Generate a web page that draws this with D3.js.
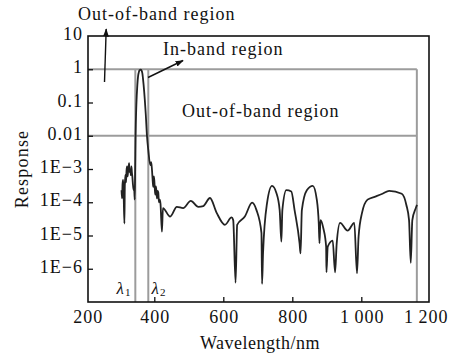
<!DOCTYPE html>
<html>
<head>
<meta charset="utf-8">
<script src="https://cdn.jsdelivr.net/npm/d3@7"></script>
<style>
  body { margin: 0; background: #fff; }
  svg text { font-family: "Liberation Serif", "Times New Roman", Times, "DejaVu Serif", serif; fill: #111; }
</style>
</head>
<body>
<svg></svg>
<script>
(function (d3) {
    'use strict';

    // filter response
    const wavelength = [305, 306.5, 308, 309.6, 311, 313.4, 314.5, 316.2, 318, 319.5, 321.2, 322.5, 324, 325.5,
        326.9, 328.5, 330.7, 332, 333.6, 335, 336.4, 338, 340.2, 341.5, 343.1, 344.5, 345.7, 348, 350.9, 353,
        355.2, 357.5, 360.4, 363, 365.3, 367, 369, 372.5, 375.4, 378.8, 382.6, 388.4, 391, 393.3, 395.6, 397,
        398.5, 399.9, 401.5, 402.8, 405, 407.7, 409.5, 411.4, 413.5, 415.8, 418, 422.1, 425, 446, 465.4, 483.6,
        505.8, 527.7, 542.1, 561.4, 580.8, 604.7, 624, 628.7, 635.6, 640.2, 662.4, 683.5, 696.2, 710.6, 712.3,
        715.2, 726.7, 741.2, 753.9, 763.4, 768.3, 771.2, 782.7, 797.1, 806.6, 821.1, 823.9, 827.7, 842.1, 859.4,
        871, 876.7, 878.8, 881.6, 890.3, 898.1, 899, 902.7, 917.1, 924, 928.7, 938.5, 960.4, 979.7, 987.5, 992.1,
        1001.9, 1018.1, 1042.3, 1061.3, 1080.7, 1117.3, 1130.6, 1138.4, 1143.3, 1147.9, 1157.7, 1161.5];
    const response = [2.3e-4, 1.3e-4, 3.5e-4, 4.7e-4, 2.0e-4, 2.3e-5, 3.0e-4, 6.6e-4, 4.0e-4, 9.0e-4, 1.2e-3, 6.0e-4,
        8.3e-4, 1.1e-3, 1.5e-3, 8.0e-4, 9.3e-4, 6.5e-4, 1.2e-3, 8.0e-4, 5.9e-4, 3.5e-4, 2.3e-4, 3.0e-4, 1.2e-4,
        9.3e-4, 0.0098, 0.084, 0.34, 0.62, 0.82, 0.94, 0.97, 0.92, 0.77, 0.55, 0.34, 0.12, 0.042, 0.0098, 3.7e-3,
        1.3e-3, 1.6e-3, 9.3e-4, 4.1e-4, 2.9e-4, 6.0e-4, 4.7e-4, 2.5e-4, 1.7e-4, 3.0e-4, 1.3e-4, 2.2e-4, 2.0e-4,
        1.0e-4, 1.2e-4, 9.0e-5, 1.3e-5, 6.7e-5, 3.7e-5, 7.3e-5, 6.7e-5, 1.1e-4, 7.3e-5, 7.7e-5, 1.34e-4, 4.8e-5,
        2.1e-5, 3.5e-5, 2.9e-5, 3.8e-7, 2.1e-5, 3.7e-5, 9.7e-5, 5.8e-5, 1.2e-5, 3.5e-7, 3.0e-6, 9.3e-5, 3.1e-4,
        1.9e-4, 5.8e-5, 6.5e-6, 5.8e-5, 2.3e-4, 2.1e-4, 5.8e-5, 5.8e-6, 2.9e-6, 5.8e-5, 2.3e-4, 3.1e-4, 1.2e-4,
        2.3e-5, 5.8e-6, 2.9e-5, 1.6e-5, 4.6e-6, 7.8e-7, 4.6e-6, 7.0e-6, 7.8e-7, 5.8e-6, 2.4e-5, 1.4e-5, 2.4e-5,
        7.3e-7, 9.2e-6, 4.7e-5, 1.2e-4, 1.5e-4, 1.8e-4, 2.2e-4, 1.8e-4, 8.3e-5, 2.9e-5, 1.5e-6, 2.9e-5, 6.6e-5,
        8.3e-5];

    // band limits
    const bandEdges = [345, 382.6];      // lambda1, lambda2
    const limitLevels = [1, 0.01];
    const cutoff = 1161;

    const xTicks = [200, 400, 600, 800, 1000, 1200];
    const xTickLabels = ['200', '400', '600', '800', '1\u2009000', '1\u2009200'];
    const yTicks = [10, 1, 0.1, 0.01, 1e-3, 1e-4, 1e-5, 1e-6];
    const yTickLabels = ['10', '1', '0.1', '0.01', '1E\u22123', '1E\u22124', '1E\u22125', '1E\u22126'];

    const width = 457, height = 356;
    const frame = {left: 88, right: 429, top: 36, bottom: 302};
    const serif = '"Liberation Serif", "Times New Roman", Times, "DejaVu Serif", serif';

    const svg = d3.select('svg').attr('width', width).attr('height', height)
        .attr('font-family', serif);

    const x = d3.scaleLinear().domain([200, 1200]).range([85.3, 430.3]);
    const y = d3.scaleLog().domain([1e-7, 10]).range([frame.bottom, frame.top]);

    svg.append('defs').append('marker')
        .attr('id', 'arr')
        .attr('viewBox', '0 0 10 10')
        .attr('refX', 9).attr('refY', 5)
        .attr('markerWidth', 6).attr('markerHeight', 6)
        .attr('orient', 'auto')
        .append('path').attr('d', 'M0,1.5L10,5L0,8.5Z').attr('fill', '#111');

    // grey limit lines
    const grey = svg.append('g').attr('stroke', '#9c9c9c').attr('stroke-width', 2).attr('fill', 'none');
    limitLevels.forEach(v => {
        grey.append('line')
            .attr('x1', frame.left).attr('x2', x(cutoff))
            .attr('y1', y(v)).attr('y2', y(v));
    });
    grey.append('line')
        .attr('x1', x(cutoff)).attr('x2', x(cutoff))
        .attr('y1', y(limitLevels[0])).attr('y2', frame.bottom);
    grey.selectAll('line.edge').data(bandEdges)
        .enter().append('line').attr('class', 'edge')
        .attr('x1', d => x(d)).attr('x2', d => x(d))
        .attr('y1', y(limitLevels[0])).attr('y2', frame.bottom);

    // response curve
    const line = d3.line()
        .x((d, i) => x(wavelength[i]))
        .y(d => y(d))
        .curve(d3.curveMonotoneX);
    svg.append('path')
        .attr('d', line(response))
        .attr('fill', 'none')
        .attr('stroke', '#222')
        .attr('stroke-width', 1.8)
        .attr('stroke-linejoin', 'round');

    // axes
    const xAxis = svg.append('g')
        .attr('transform', `translate(0,${frame.bottom})`)
        .call(d3.axisBottom(x).tickValues(xTicks)
            .tickFormat((d, i) => xTickLabels[i])
            .tickSize(-5).tickPadding(8));
    xAxis.attr('font-family', serif).attr('font-size', 18);
    xAxis.select('.domain').remove();
    xAxis.selectAll('.tick line')
        .attr('stroke', '#111').attr('stroke-width', 1.3)
        .attr('display', d => (d === 200 || d === 1200) ? 'none' : null);
    xAxis.selectAll('.tick text')
        .attr('letter-spacing', 1).attr('fill', '#111')
        .attr('dx', d => d === 200 ? 2.5 : d === 1200 ? -4.5 : 0.5);

    const yAxis = svg.append('g')
        .attr('transform', `translate(${frame.left},0)`)
        .call(d3.axisLeft(y).tickValues(yTicks)
            .tickFormat((d, i) => yTickLabels[i])
            .tickSize(-5).tickPadding(5));
    yAxis.attr('font-family', serif).attr('font-size', 18);
    yAxis.select('.domain').remove();
    yAxis.selectAll('.tick line').attr('stroke', '#111').attr('stroke-width', 1.3)
        .attr('display', d => d === 10 ? 'none' : null);
    yAxis.selectAll('.tick text')
        .attr('letter-spacing', 1).attr('fill', '#111')
        .attr('dy', '0.2em');

    // frame
    svg.append('rect')
        .attr('x', frame.left).attr('y', frame.top)
        .attr('width', frame.right - frame.left)
        .attr('height', frame.bottom - frame.top)
        .attr('fill', 'none').attr('stroke', '#111').attr('stroke-width', 1.6);

    // axis titles
    svg.append('text')
        .attr('x', 260).attr('y', 349)
        .attr('text-anchor', 'middle')
        .attr('font-size', 18).attr('letter-spacing', 0.5)
        .text('Wavelength/nm');
    svg.append('text')
        .attr('transform', 'translate(28,169) rotate(-90)')
        .attr('text-anchor', 'middle')
        .attr('font-size', 18).attr('letter-spacing', 1.2)
        .text('Response');

    // annotations
    const note = (tx, ty, s) => svg.append('text')
        .attr('x', tx).attr('y', ty)
        .attr('font-size', 18).attr('letter-spacing', 1)
        .text(s);
    note(78, 20, 'Out-of-band region');
    note(163, 55, 'In-band region');
    note(182, 117, 'Out-of-band region');

    const arrow = (x1, y1, x2, y2) => svg.append('line')
        .attr('x1', x1).attr('y1', y1).attr('x2', x2).attr('y2', y2)
        .attr('stroke', '#111').attr('stroke-width', 1.4)
        .attr('marker-end', 'url(#arr)');
    arrow(104.5, 82, 106.2, 29);
    arrow(148, 77.5, 183, 60.5);

    // lambda labels
    const lam = (tx, sub) => {
        const t = svg.append('text').attr('x', tx).attr('y', 294).attr('font-size', 17);
        t.append('tspan').attr('font-style', 'italic').text('\u03bb');
        t.append('tspan').attr('font-size', 11).attr('dy', 2).attr('dx', 1).text(sub);
    };
    lam(116.5, '1');
    lam(151.5, '2');
}(d3));
</script>
</body>
</html>
